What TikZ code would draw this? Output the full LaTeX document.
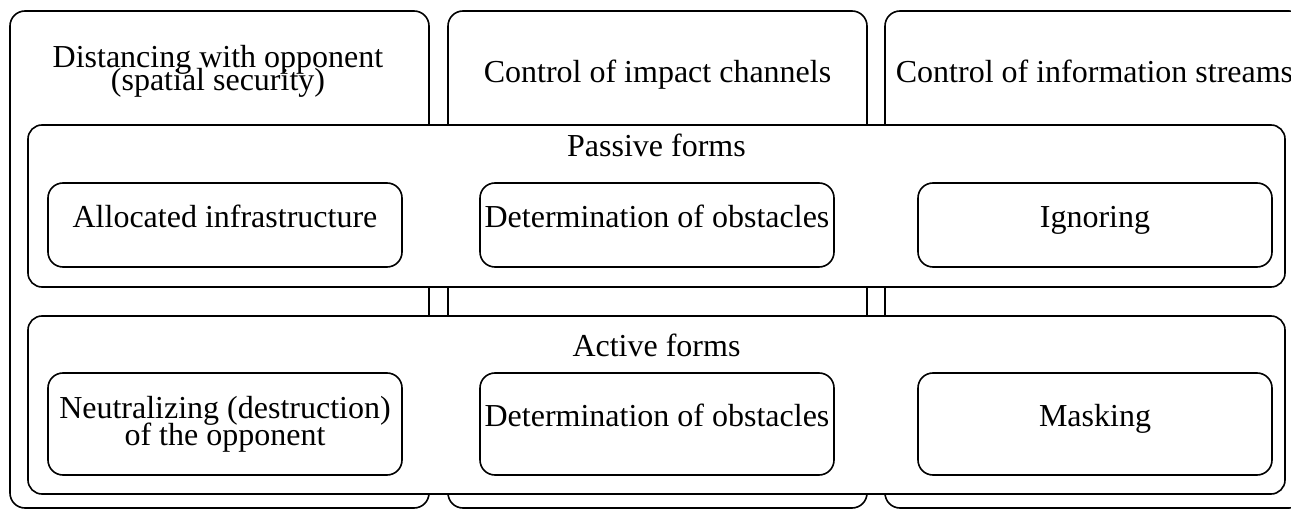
\documentclass[tikz,border=0pt]{standalone}
\usepackage{fontspec}
\setmainfont{Liberation Serif}
\newcommand\tightlines{\lineskiplimit-100pt\relax}
\begin{document}
\begin{tikzpicture}[x=1pt, y=-1pt,
  every node/.style={font={\fontsize{32}{27}\selectfont\tightlines}},
  column/.style={draw, line width=1.6pt, rounded corners=15pt,
    minimum width=419pt, minimum height=497pt, inner sep=0pt},
  band/.style={draw, line width=1.6pt, rounded corners=14pt, fill=white,
    minimum width=1257pt, inner sep=0pt},
  item/.style={draw, line width=1.6pt, rounded corners=15pt, fill=white,
    minimum width=354pt, inner sep=1pt, align=center,
    text height=0.69em, text depth=0.22em},
  itemtwo/.style={draw, line width=1.6pt, rounded corners=15pt, fill=white,
    minimum width=354pt, inner sep=1pt, align=center},
  title/.style={anchor=base, inner sep=0pt}
]
\useasboundingbox (0,0) rectangle (1291,510);
\clip (0,0) rectangle (1291,510);

% three columns in the background
\node[column] (col1) at (219.5,259.5) {};
\node[column] (col2) at (657.5,259.5) {};
\node[column] (col3) at (1094.5,259.5) {};

% column headings
\node[inner sep=0pt, align=center,
  font={\fontsize{32}{23}\selectfont\tightlines}] (h1) at (218,71.5)
  {Distancing with opponent\\(spatial security)};
\node[title] (h2) at (657.5,83) {Control of impact channels};
\node[title] (h3) at (1094.5,83) {Control of information streams};

% horizontal bands
\node[band, minimum height=162pt] (passive) at (656.5,206) {};
\node[band, minimum height=178pt] (active) at (656.5,405) {};
\node[title] (plabel) at (656.5,157) {Passive forms};
\node[title] (alabel) at (656.5,357) {Active forms};

% passive forms
\node[item, minimum height=84pt] (p1) at (225,225) {Allocated infrastructure};
\node[item, minimum height=84pt] (p2) at (657,225) {Determination of obstacles};
\node[item, minimum height=84pt] (p3) at (1095,225) {Ignoring};

% active forms
\node[itemtwo, minimum height=102pt] (a1) at (225,424) {Neutralizing (destruction)\\of the opponent};
\node[item, minimum height=102pt] (a2) at (657,424) {Determination of obstacles};
\node[item, minimum height=102pt] (a3) at (1095,424) {Masking};
\end{tikzpicture}
\end{document}
